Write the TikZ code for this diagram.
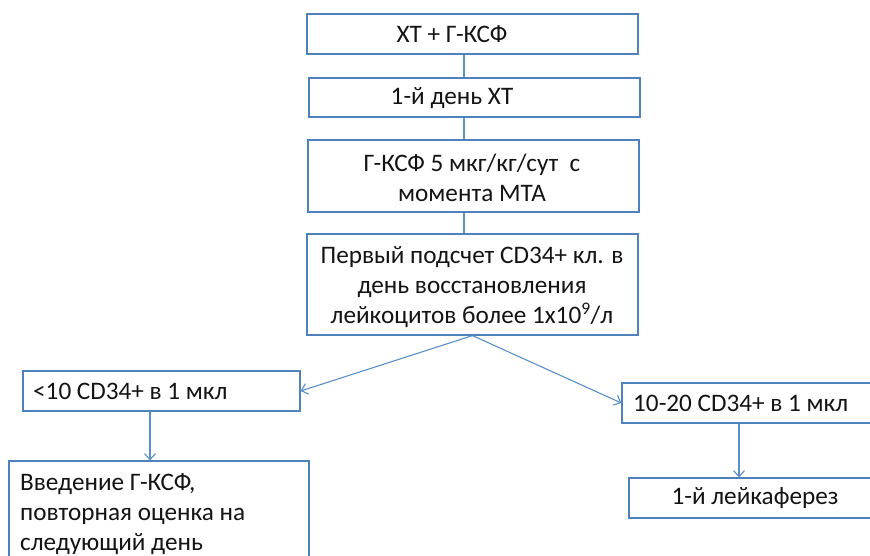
\documentclass[tikz,border=0pt]{standalone}
\usepackage{fontspec}
\setmainfont{Carlito}
\usetikzlibrary{arrows.meta}
\definecolor{boxblue}{RGB}{79,129,189}
\definecolor{lineblue}{RGB}{91,142,205}
\definecolor{txt}{RGB}{20,20,20}
\begin{document}
\begin{tikzpicture}[x=1pt,y=-1pt,
  box/.style={draw=boxblue, line width=1.2pt, inner sep=0pt, fill=white},
  lbl/.style={inner sep=0pt, text=txt, font=\fontsize{25.2}{30}\selectfont},
  conn/.style={draw=lineblue, line width=1.1pt},
  arr/.style={conn, -{Straight Barb[length=6pt,width=11pt]}}]
\useasboundingbox (0,0) rectangle (870,555);
\clip (0,0) rectangle (870,555);
% boxes
\node[box, minimum width=331pt, minimum height=40pt] (b1) at (472.5,34) {};
\node[box, minimum width=331pt, minimum height=39pt] (b2) at (474.5,97.5) {};
\node[box, minimum width=331pt, minimum height=72pt] (b3) at (473.5,176) {};
\node[box, minimum width=331pt, minimum height=101pt] (b4) at (472.5,284.5) {};
\node[box, minimum width=277pt, minimum height=40pt] (b5) at (161.5,391) {};
\node[box, minimum width=300pt, minimum height=129pt] (b6) at (159,525.5) {};
\node[box, minimum width=258pt, minimum height=40pt] (b7) at (751,403) {};
\node[box, minimum width=252pt, minimum height=40pt] (b8) at (755,498) {};
% texts
\node[lbl] (t1) at (452,34.5) {ХТ + Г-КСФ};
\node[lbl] (t2) at (452,98) {1-й день ХТ};
\node[lbl, align=center] (t3) at (472,177.5) {Г-КСФ 5 мкг/кг/сут\ \ с\\момента МТА};
\node[lbl, align=center] (t4) at (472,287.5) {Первый подсчет CD34+ кл. в\\день восстановления\\лейкоцитов более 1х10\textsuperscript{9}/л};
\node[lbl, anchor=west] (t5) at (33,391.5) {<10 CD34+ в 1 мкл};
\node[lbl, anchor=west, align=left] (t6) at (20,514) {Введение Г-КСФ,\\повторная оценка на\\следующий день};
\node[lbl, anchor=west] (t7) at (633,403.5) {10-20 CD34+ в 1 мкл};
\node[lbl] (t8) at (755,498.5) {1-й лейкаферез};
% connectors
\coordinate (cx) at (464,0);
\coordinate (lx) at (150,0);
\coordinate (rx) at (739,0);
\draw[conn] (b1.south -| cx) -- (b2.north -| cx);
\draw[conn] (b2.south -| cx) -- (b3.north -| cx);
\draw[conn] (b3.south -| cx) -- (b4.north -| cx);
\draw[arr] (b4.south) -- (b5.east);
\draw[arr] (b4.south) -- (b7.west);
\draw[arr] (b5.south -| lx) -- (b6.north -| lx);
\draw[arr] (b7.south -| rx) -- (b8.north -| rx);
\end{tikzpicture}
\end{document}
